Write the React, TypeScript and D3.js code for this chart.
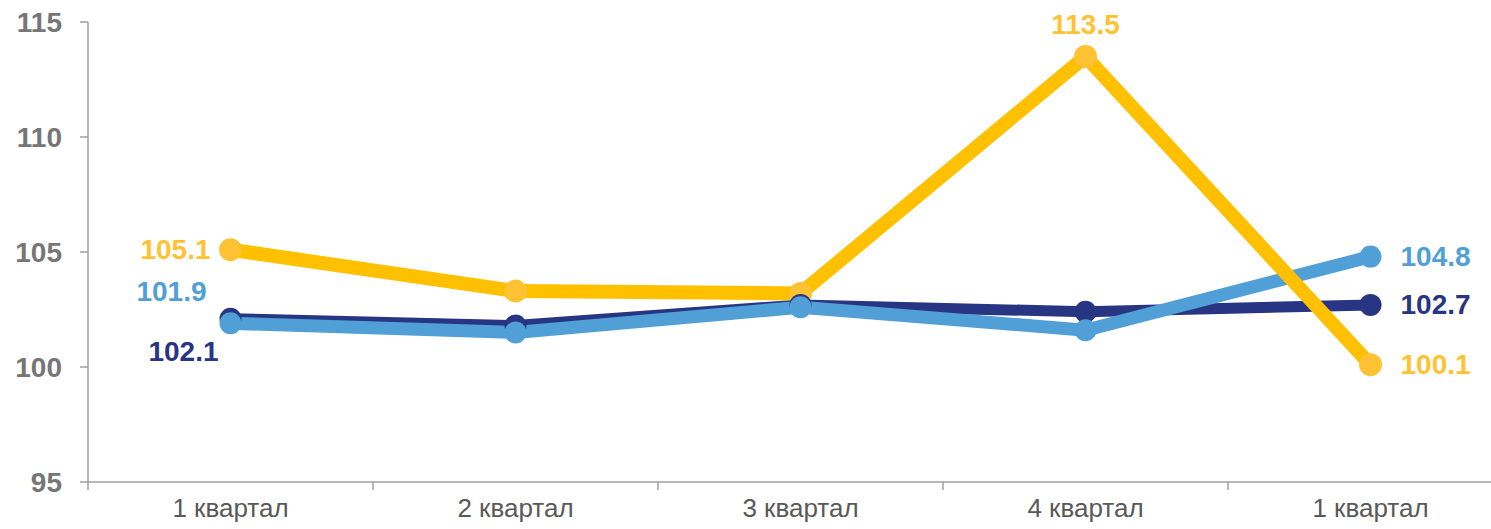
import React, { useRef, useEffect } from 'react';
import * as d3 from 'd3';

const categories = ['1 квартал', '2 квартал', '3 квартал', '4 квартал', '1 квартал'];
const navySeries = [102.1, 101.8, 102.7, 102.4, 102.7];
const lightBlueSeries = [101.9, 101.5, 102.6, 101.6, 104.8];
const yellowSeries = [105.1, 103.3, 103.2, 113.5, 100.1];
const yTicks = [95, 100, 105, 110, 115];

const NAVY = '#283583';
const LIGHT_BLUE = '#519FD7';
const YELLOW = '#FFC000';
const YELLOW_DOT = '#FFC233';
const FONT = 'Liberation Sans, Arial, sans-serif';

export default function App() {
  const svgRef = useRef<SVGSVGElement>(null);
  const width = 1491;
  const height = 529;

  useEffect(() => {
    document.body.style.margin = '0';
    if (!svgRef.current) return;
    const svg = d3.select(svgRef.current);
    svg.selectAll('*').remove();

    const left = 88;
    const right = 1513; // plot runs off the right edge like the original
    const top = 22;
    const bottom = 482;

    const x = d3.scaleBand<number>()
      .domain(categories.map((_c, i) => i))
      .range([left, right]);
    const cx = (i: number) => (x(i) ?? 0) + x.bandwidth() / 2;
    const y = d3.scaleLinear().domain([95, 115]).range([bottom, top]);

    // y axis
    svg.append('line')
      .attr('x1', left).attr('x2', left)
      .attr('y1', top).attr('y2', bottom)
      .attr('stroke', '#a0a0a0').attr('stroke-width', 1.5);
    yTicks.forEach((t) => {
      svg.append('line')
        .attr('x1', left - 8).attr('x2', left)
        .attr('y1', y(t)).attr('y2', y(t))
        .attr('stroke', '#a0a0a0').attr('stroke-width', 1.5);
      svg.append('text')
        .attr('x', 62).attr('y', y(t))
        .attr('text-anchor', 'end')
        .attr('dominant-baseline', 'central')
        .attr('font-family', FONT)
        .attr('font-size', 28)
        .attr('font-weight', 'bold')
        .attr('fill', '#767676')
        .text(t);
    });

    // x axis
    svg.append('line')
      .attr('x1', left).attr('x2', right)
      .attr('y1', bottom).attr('y2', bottom)
      .attr('stroke', '#a0a0a0').attr('stroke-width', 1.5);
    categories.forEach((c, i) => {
      const bx = x(i) ?? 0;
      svg.append('line')
        .attr('x1', bx).attr('x2', bx)
        .attr('y1', bottom).attr('y2', bottom + 8)
        .attr('stroke', '#a0a0a0').attr('stroke-width', 1.5);
      svg.append('text')
        .attr('x', cx(i)).attr('y', 517)
        .attr('text-anchor', 'middle')
        .attr('font-family', FONT)
        .attr('font-size', 26)
        .attr('fill', '#595959')
        .text(c);
    });
    svg.append('line')
      .attr('x1', right).attr('x2', right)
      .attr('y1', bottom).attr('y2', bottom + 8)
      .attr('stroke', '#a0a0a0').attr('stroke-width', 1.5);

    const line = d3.line<number>()
      .x((_d, i) => cx(i))
      .y((d) => y(d));

    const drawLine = (data: number[], color: string, w: number) => {
      svg.append('path')
        .datum(data)
        .attr('d', line)
        .attr('fill', 'none')
        .attr('stroke', color)
        .attr('stroke-width', w)
        .attr('stroke-linejoin', 'round');
    };
    const drawDots = (data: number[], color: string, r: number) => {
      data.forEach((d, i) => {
        svg.append('circle')
          .attr('cx', cx(i)).attr('cy', y(d))
          .attr('r', r)
          .attr('fill', color);
      });
    };

    drawLine(navySeries, NAVY, 11);
    drawLine(lightBlueSeries, LIGHT_BLUE, 13);
    drawLine(yellowSeries, YELLOW, 14);
    drawDots(yellowSeries, YELLOW_DOT, 11.5);
    drawDots(navySeries, NAVY, 11);
    drawDots(lightBlueSeries, LIGHT_BLUE, 11);

    // data labels
    const label = (txt: string, lx: number, ly: number, anchor: string, color: string) => {
      svg.append('text')
        .attr('x', lx).attr('y', ly)
        .attr('text-anchor', anchor)
        .attr('dominant-baseline', 'central')
        .attr('font-family', FONT)
        .attr('font-size', 28)
        .attr('font-weight', 'bold')
        .attr('fill', color)
        .text(txt);
    };
    const last = categories.length - 1;
    label(String(yellowSeries[0]), cx(0) - 20, y(yellowSeries[0]), 'end', YELLOW_DOT);
    label(String(lightBlueSeries[0]), cx(0) - 24, y(lightBlueSeries[0]) - 32, 'end', LIGHT_BLUE);
    label(String(navySeries[0]), cx(0) - 12, y(navySeries[0]) + 33, 'end', NAVY);
    label(String(yellowSeries[3]), cx(3), y(yellowSeries[3]) - 32, 'middle', YELLOW_DOT);
    label(String(lightBlueSeries[last]), cx(last) + 30, y(lightBlueSeries[last]), 'start', LIGHT_BLUE);
    label(String(navySeries[last]), cx(last) + 30, y(navySeries[last]), 'start', NAVY);
    label(String(yellowSeries[last]), cx(last) + 30, y(yellowSeries[last]), 'start', YELLOW_DOT);
  }, []);

  return <svg ref={svgRef} width={width} height={height} style={{ display: 'block' }} />;
}
